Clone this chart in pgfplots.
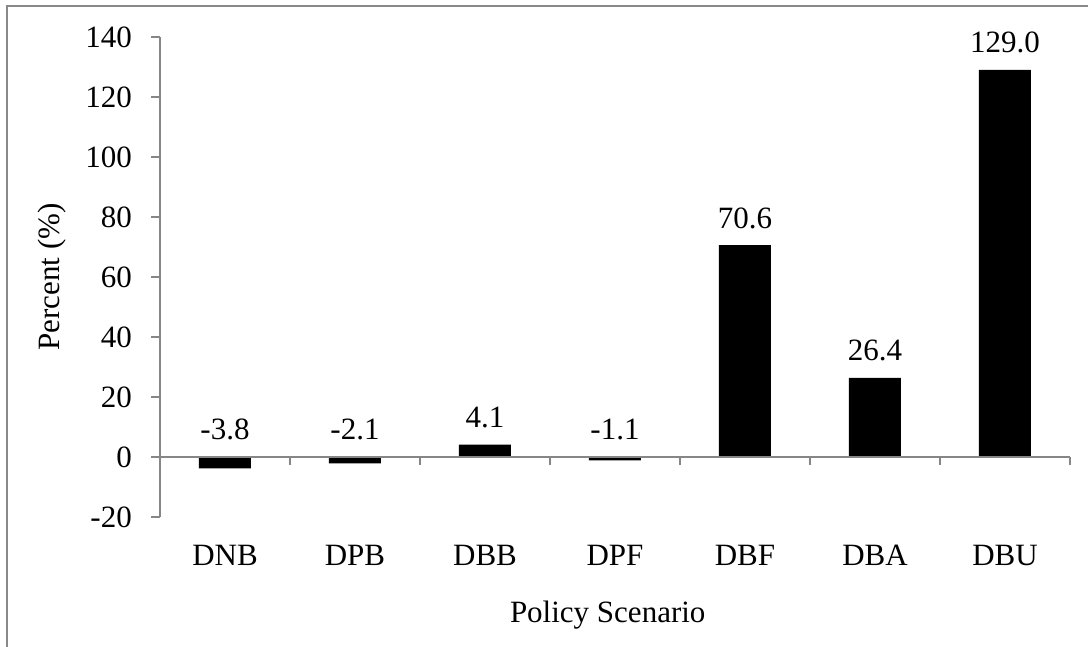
\documentclass[border=0pt]{standalone}
\usepackage{fontspec}
\setmainfont{Liberation Serif}
\usepackage{pgfplots}
\pgfplotsset{compat=1.18}
\usepackage{pgfplotstable}

\definecolor{axisgray}{HTML}{868686}
\definecolor{framegray}{HTML}{898989}

% x: category index, val: change in percent, pos: where the value label sits
\pgfplotstableread{
x val pos
0 -3.8 0
1 -2.1 0
2 4.1 4.1
3 -1.1 0
4 70.6 70.6
5 26.4 26.4
6 129.0 129.0
}\scenarios

\pgfplotsset{
  chartbase/.style={
    at={(80pt,65pt)}, anchor=south west,
    scale only axis, width=455pt, height=240pt,
    xmin=-0.5, xmax=6.5, ymin=-20, ymax=140,
  },
}

\begin{document}
\fontsize{15.5pt}{18pt}\selectfont
\begin{tikzpicture}
\path[use as bounding box] (0,0) rectangle (544pt,323.5pt);
% chart area border
\draw[framegray, line width=0.8pt] (3.5pt,-2pt) -- (3.5pt,320.5pt) -- (548pt,320.5pt);

\begin{axis}[chartbase,
  axis y line*=left, axis x line*=bottom,
  x axis line style={draw=none},
  y axis line style={axisgray, line width=0.8pt},
  ytick={-20,0,...,140},
  ytick style={axisgray, line width=0.8pt},
  xtick={0,...,6},
  xticklabels={DNB,DPB,DBB,DPF,DBF,DBA,DBU},
  xtick style={draw=none},
  tick align=outside, major tick length=4.25pt,
  /pgf/number format/assume math mode=true,
  yticklabel style={xshift=-4.5pt},
  xticklabel style={anchor=base, yshift=-20pt},
  ylabel={Percent (\%)},
  xlabel={Policy Scenario},
  ylabel style={at={(axis description cs:-0.11,0.5)}, anchor=base},
  xlabel style={at={(axis description cs:0.492,-0.219)}, anchor=base},
]
\addplot[ybar, bar width=26pt, bar shift=0pt, fill=black, draw=none]
  table[x=x, y=val] {\scenarios};
\addplot[draw=none, mark=none, nodes near coords, point meta=explicit,
  /pgf/number format/.cd, fixed, fixed zerofill, precision=1, assume math mode=true,
  /pgfplots/.cd,
  nodes near coords style={anchor=base, yshift=8.5pt, black}]
  table[x=x, y=pos, meta=val] {\scenarios};
\end{axis}

% zero line with category separators
\begin{axis}[chartbase,
  axis x line*=middle, axis y line=none,
  x axis line style={axisgray, line width=0.8pt},
  xtick={-0.5,0.5,...,6.5}, xticklabels={},
  xtick style={axisgray, line width=0.8pt},
  ytick=\empty,
  tick align=outside, major tick length=4.25pt,
]
\end{axis}
\end{tikzpicture}
\end{document}
